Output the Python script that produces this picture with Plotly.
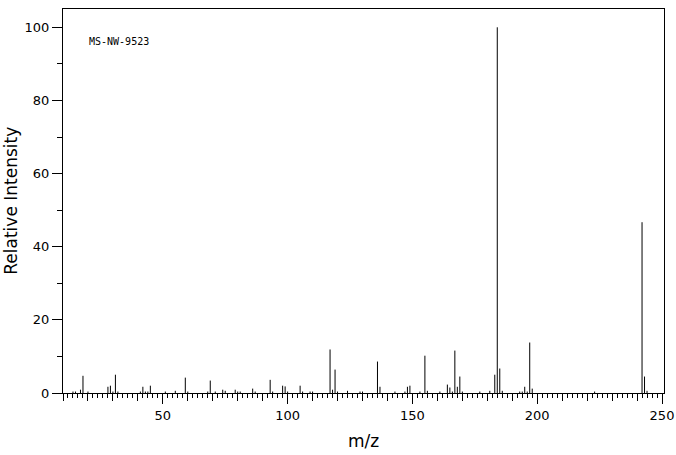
import plotly.graph_objects as go

# m/z values and relative intensities
mz = [14, 15, 17, 18, 20, 28, 29, 30, 31, 32, 41, 42, 43, 44, 45, 51, 55, 59, 60,
      68, 69, 71, 74, 75, 79, 80, 81, 86, 87, 93, 94, 98, 99, 100, 105, 106, 109,
      110, 117, 118, 119, 120, 124, 129, 130, 136, 137, 143, 147, 148, 149, 153,
      155, 156, 161, 164, 165, 166, 167, 168, 169, 170, 177, 181, 183, 184, 185,
      186, 193, 194, 195, 196, 197, 198, 223, 242, 243, 244]
intensity = [0.4, 0.4, 0.9, 4.7, 0.4, 1.7, 2.0, 0.4, 5.0, 0.4, 0.4, 1.7, 0.4, 0.4,
             2.0, 0.4, 0.6, 4.2, 0.4, 0.4, 3.4, 0.4, 0.9, 0.6, 0.9, 0.4, 0.4, 1.2,
             0.4, 3.6, 0.4, 2.0, 1.8, 0.4, 2.0, 0.4, 0.4, 0.4, 11.9, 0.9, 6.4, 0.4,
             0.6, 0.4, 0.4, 8.6, 1.7, 0.4, 0.4, 1.7, 2.0, 0.4, 10.2, 0.6, 0.4, 2.3,
             1.5, 0.4, 11.6, 1.7, 4.5, 0.4, 0.4, 0.6, 5.0, 100.0, 6.7, 0.6, 0.4,
             0.4, 1.7, 0.4, 13.8, 1.2, 0.4, 46.7, 4.5, 0.6]

x_labels = [50, 100, 150, 200, 250]
y_ticks = [0, 20, 40, 60, 80, 100]
title_text = "MS-NW-9523"

xs, ys = [], []
for m, v in zip(mz, intensity):
    xs += [m, m, None]
    ys += [0, v, None]

fig = go.Figure()
fig.add_trace(go.Scatter(x=xs, y=ys, mode="lines",
                         line=dict(color="black", width=1),
                         hoverinfo="skip", showlegend=False))
# invisible trace to anchor the labelled overlay axis
fig.add_trace(go.Scatter(x=[x_labels[0]], y=[0], xaxis="x2", mode="markers",
                         marker=dict(opacity=0), hoverinfo="skip", showlegend=False))

xr = [10, 250.8]
tick_font = dict(family="DejaVu Sans", size=13, color="black")

fig.update_layout(
    width=676, height=455,
    margin=dict(l=63, r=12, t=9, b=62, pad=0, autoexpand=False),
    paper_bgcolor="white", plot_bgcolor="white",
    xaxis=dict(range=xr, showgrid=False, zeroline=False, automargin=False,
               showline=True, linecolor="black", linewidth=1, mirror=True,
               tickmode="linear", tick0=0, dtick=10, ticks="outside",
               ticklen=7, tickwidth=1, tickcolor="black", showticklabels=False,
               minor=dict(dtick=2, tick0=0, ticks="outside", ticklen=4,
                          tickwidth=1, tickcolor="black", showgrid=False)),
    xaxis2=dict(range=xr, overlaying="x", anchor="y", side="bottom",
                automargin=False,
                showgrid=False, zeroline=False, showline=False,
                tickmode="array", tickvals=x_labels,
                ticktext=[str(v) for v in x_labels],
                ticks="outside", ticklen=10, tickwidth=1, tickcolor="black",
                tickfont=tick_font),
    yaxis=dict(range=[0, 105], showgrid=False, zeroline=False, automargin=False,
               showline=True, linecolor="black", linewidth=1, mirror=True,
               tickmode="array", tickvals=y_ticks,
               ticktext=[str(v) for v in y_ticks],
               ticks="outside", ticklen=10, tickwidth=1, tickcolor="black",
               tickfont=tick_font,
               minor=dict(tickvals=[10, 30, 50, 70, 90], ticks="outside",
                          ticklen=5, tickwidth=1, tickcolor="black",
                          showgrid=False)),
    annotations=[
        dict(text=title_text, xref="paper", yref="paper", x=0.0395, y=0.9156,
             xanchor="left", yanchor="middle", showarrow=False,
             font=dict(family="DejaVu Sans Mono", size=10, color="black")),
        dict(text="Relative Intensity", xref="paper", yref="paper",
             x=-0.087, y=0.5, xanchor="center", yanchor="middle",
             textangle=-90, showarrow=False,
             font=dict(family="DejaVu Sans", size=17, color="black")),
        dict(text="m/z", xref="paper", yref="paper", x=0.5, y=-0.125,
             xanchor="center", yanchor="middle", showarrow=False,
             font=dict(family="DejaVu Sans", size=17, color="black")),
    ],
)

fig.write_html("out.html", config={"displayModeBar": False},
               post_script="document.body.style.margin='0';document.body.style.padding='0';")
